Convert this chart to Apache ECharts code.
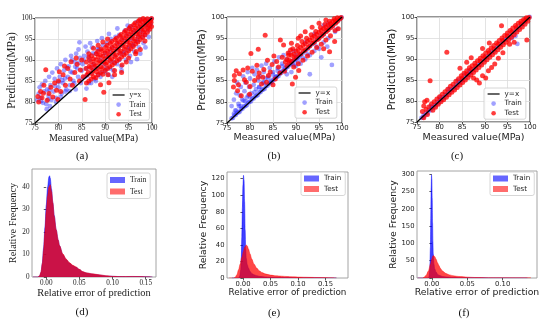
<!DOCTYPE html>
<html>
<head>
<meta charset="utf-8">
<script src="https://cdn.jsdelivr.net/npm/echarts@6/dist/echarts.min.js"></script>
<style>html,body{margin:0;padding:0;background:#fff}#c{width:550px;height:323px}</style>
</head>
<body>
<div id="c"></div>
<script>
// ---------------- DATA ----------------
const scatterTicks = [75, 80, 85, 90, 95, 100];
const refLine = [[75, 75], [100, 100]];
const captions = ['(a)', '(b)', '(c)', '(d)', '(e)', '(f)'];

// scatter values as flat x,y lists (Measured, Prediction)
const aTrain = [75.5,80.5,75.8,82,76,83.5,76.2,81,76.5,84.2,76.7,79.8,77,82.5,77.2,85,77.4,79.5,77.6,83,77.9,81.5,78,86,78.3,84,78.5,80.5,78.7,87,79,82.5,79.2,85.5,79.5,81,79.7,88,80,83.5,76.3,80.2,77.8,80.6,77.5,78.3,78.2,79,79.5,80,80.5,81.2,81.5,82.5,
80.3,86,80.5,89,80.7,82,81,84.5,81.2,87.5,81.5,90,81.7,83,82,86,82.2,88.5,82.5,84,82.7,91,83,87,83.2,85,83.5,89.5,83.7,83,84,88,84.2,86,84.5,94.2,84.6,90.5,84.8,84.5,85,87.5,80.8,85.2,81.8,88.2,82.9,90,83.8,91.5,84.3,92.5,82.4,82.6,83.4,84.4,
81.4,85.6,82.6,87.2,83.6,88.4,84.4,89.3,85.4,90,86.4,90.8,87.4,91.6,88.4,92.6,85,85.4,86.2,86.3,87.3,88,79.3,83.8,80.1,84.7,78.1,82.8,
85.2,89,85.5,91,85.7,86,86,88,86.2,92,86.5,84.5,86.7,90,87,87,87.2,93,87.5,89,87.7,85.5,88,91.5,88.2,88,88.5,86.5,88.7,92.5,89,90,89.2,87,89.5,93.5,89.7,89,90,91.5,86,83.2,87,84.5,88,85,89,86,85.8,93.2,86.8,94,88.3,94.5,89.3,95.2,
90.2,88,90.4,94,90.5,90.5,90.7,86.5,91,92,91.2,95,91.3,89.5,91.5,93,91.7,87.5,92,91,92.2,95.5,92.4,92.5,92.5,89,92.7,94,93,96,93.2,91.5,93.4,88.5,93.5,93.5,93.7,95,94,92,94.2,97,94.4,90,94.5,94.5,94.7,96,95,93,90,87.2,91,88,92,89.5,93,90,94,91.5,91.5,86,93.5,87.5,90.8,96.2,92.6,97.5,94.8,98.2,
95.2,97.5,95.3,91,95.5,95,95.7,98,95.9,93.5,96,96.5,96.2,92,96.4,97,96.5,94.5,96.7,99,97,95.5,97.2,93,97.4,98,97.5,96.5,97.7,99.5,98,97,98.2,94,98.4,98.5,98.5,96,98.7,99.5,99,98,99.2,97,99.5,99.5,99.7,98.5,99.9,99.8,95,92.5,96,93.5,97,94.5,98,95.5,95.5,89.5,97.5,91.5,98.6,93,99.3,95.5,96.8,90.2];

const aTest = [75.8,80,76.2,82.5,76.5,81,76.9,84,77.3,87.7,77.6,80.4,78,82,78.4,83.5,78.8,81.2,79.2,84.5,79.6,82.8,80,85,80.5,82.5,81,86.5,81.5,84,82,88,82.5,85.5,83,84,83.5,87,84,89,84.5,85,85,90,85.7,80.6,80.2,87.2,81.3,88.6,82.7,89.6,83.8,90.5,84.7,87.6,85.3,86,75.6,81.3,76.8,82.1,79.9,80.6,
86,84.5,86.1,86.5,85.9,88,86,89.5,86.5,85,86.4,87,86.6,88.5,86.5,90.5,87,85.5,87.1,86.8,86.9,88.2,87,89.6,87.1,91,87.5,86,87.4,87.5,87.6,89,87.5,90.3,88,85.8,88.1,87.2,87.9,88.6,88,90,88.1,91.5,88.5,86.5,88.4,88,88.6,89.3,88.5,90.8,88.4,92,
89,87,89.1,88.4,88.9,89.8,89,91.2,89.1,92.6,89.5,86.6,89.4,88,89.6,89.5,89.5,90.9,89.4,92.2,90,87.5,90.1,89,89.9,90.3,90,91.7,90.1,93,90.5,88,90.4,89.4,90.6,90.8,90.5,92.1,90.4,93.5,90.6,86.5,
91,88.4,91.1,89.9,90.9,91.2,91,92.6,91.1,94,91.5,88.8,91.4,90.3,91.6,91.6,91.5,93,91.4,94.4,92,89.3,92.1,90.8,91.9,92.1,92,93.4,92.1,94.8,92,87.5,92.5,89.8,92.4,91.2,92.6,92.6,92.5,93.9,92.4,95.2,
93,90.2,93.1,91.7,92.9,93,93,94.3,93.1,95.7,93.5,90.7,93.4,92.1,93.6,93.5,93.5,94.8,93.4,96.1,93.6,88.8,94,91.2,94.1,92.6,93.9,94,94,95.3,94.1,96.6,94.5,91.6,94.4,93.1,94.6,94.4,94.5,95.7,94.4,97,
95,92.2,95.1,93.6,94.9,94.9,95,96.2,95.1,97.5,95,90.5,95.5,92.7,95.4,94,95.6,95.4,95.5,96.7,95.4,98,96,93.2,96.1,94.5,95.9,95.9,96,97.1,96.1,98.4,96.5,93.8,96.4,95,96.6,96.3,96.5,97.6,96.4,98.8,96.6,92,
97,94.3,97.1,95.6,96.9,96.8,97,98,97.1,99.2,97.5,94.9,97.4,96.1,97.6,97.3,97.5,98.5,97.4,99.6,98,95.4,98.1,96.6,97.9,97.8,98,99,98.1,99.9,98.5,96,98.4,97.2,98.6,98.3,98.5,99.4,99,96.6,99.1,97.7,98.9,98.8,99,99.8,99.5,97.3,99.4,98.3,99.6,99.3,99.9,98,99.8,99,99.9,99.9,
89,84.1,89.7,82.3,90.8,84.6,92,86.5,93.5,87,94.5,89.5,96.5,91.5,97.5,92.5,98.5,94.5,87.5,92.8,86.5,91.5,88.5,93.5,89.5,94.3,90.5,95];

const bTrain = [76,76.1,76.3,76.2,76.6,76.8,76.9,76.9,77.2,77.4,77.5,77.5,77.8,77.7,78.1,78.3,78.4,78.4,78.7,78.9,79,79,79.3,79.2,79.6,79.8,79.9,80,80.2,80.1,80.5,80.7,80.8,80.8,81.1,81.3,81.4,81.4,81.7,81.6,82,82.2,82.3,82.3,82.6,82.8,82.9,82.9,83.2,83.1,83.5,83.7,83.8,83.8,84.1,84.3,84.4,84.4,84.7,84.6,85,85.2,85.3,85.3,85.6,85.8,85.9,85.9,86.2,86.1,86.5,86.7,86.8,86.8,87.1,87.3,87.4,87.4,87.7,87.6,88,88.2,88.3,88.3,88.6,88.8,88.9,88.9,89.2,89.1,89.5,89.7,89.8,89.8,90.1,90.3,90.4,90.4,90.7,90.6,91,91.2,91.5,91.5,92,92.1,92.5,92.4,93,93.1,93.5,93.6,94,93.9,94.5,94.6,95,95,95.5,95.6,96,95.9,96.5,96.6,97,97,97.5,97.6,98,97.9,98.5,98.6,99,99,99.5,99.5,99.9,99.9,
76.5,77.2,77,77.9,78,79,79,80.1,80,81.2,81,82.3,82,83.4,83,84.5,84,85.5,85,86.4,86,87.3,87,88.4,
76,79,76.5,80.5,77,82,77.2,84.5,77.5,79.5,77.8,81.5,78,83.5,78.3,80.5,78.5,86,78.8,82.5,79,84.5,79.3,81,79.5,87,79.8,83.5,80,85.5,80.3,82,80.5,88,80.8,84,81,86.5,81.3,83,81.5,87.5,81.8,85,82,83.5,82.3,86,82.5,88.5,82.8,84.5,83,87,83.3,85.5,83.5,89,84,86,84.3,88,84.6,84.8,85,87,85.3,89.5,85.6,86,86,88,86.3,90.5,86.6,87,87,89,87.3,91,87.6,88,88,90,88.5,91.5,89,89.5,89.5,92,90,91,76.8,78,77.6,79,78.6,80.3,79.6,81.5,
88,86.5,89,87,90,88.5,91,89,92,90,93,91,94,92,95,92.5,96,94,97,95,97.8,88.7,93,86.5,95.5,90.5,96.8,93,98.5,96.5,99,97.2,94.5,93,92.5,91.2,91.5,90.4,90.5,89.4,89.5,88.6,92,94,94,96,96,98,97,98.5];

const bTest = [76.6,85,76.6,86.2,77,87.3,77.7,86.6,78.1,81.4,79.2,84.6,79.9,81.8,81,85,81.8,85.8,82.5,84.2,83.3,95.7,83.6,84.6,84.4,87,85.5,85.4,86.2,88.2,86.6,94.6,87.3,93.4,87.7,89.4,88.4,91,88.8,92.2,89.2,84.2,89.9,85.8,90.6,87.4,80.2,91.4,81.8,92.4,77.5,84,78.5,87.5,79.5,88,80.5,87.2,81.5,88.6,82,86.8,82.8,85.8,83,87.6,84,86.2,84.8,88.8,85,84,85.8,89.5,86.5,86.8,87,90.5,87.5,87.2,76.4,83.5,77.3,82.6,78.8,85.2,80,83.6,83.8,89.8,85.2,90.8,
88,88.5,88,90,88.3,91.5,88.6,89.2,89,89.5,89,91,89.3,92.5,89.6,90.2,90,90.5,90,92,90.3,93.3,90.6,91.2,91,91.3,91,92.8,91.3,94.2,91.6,92,92,92.2,92,93.7,92.3,95,92.6,92.8,93,93.2,93,94.6,93.3,95.8,93.6,93.8,94,94.1,94,95.5,94.3,96.6,94.6,94.7,95,95,95,96.4,95.3,97.5,95.6,95.6,96,96,96,97.3,96.3,98.3,96.6,96.6,97,97,97,98.2,97.3,99,97.6,97.5,98,98,98,99,98.3,99.6,98.6,98.5,99,99,99,99.8,99.5,99.5,99.8,99.9,
89.5,88.2,90.5,89,91.5,89.8,92.5,90.8,93.5,91.7,94.5,92.8,95.5,93.6,96.5,94.6,97.5,95.6,98.5,96.8,97.3,91.8,98.4,94.2,96,92.5,99.2,97.2,
90.5,95,92,96.5,93.5,97.6,95,98.5,96.5,99.3,89,93.8,91,95.5,
88.5,89.8,89.5,91.3,90.5,92.3,91.5,93.3,92.5,94.2,93.5,95.1,94.5,95.9,95.5,96.8,96.5,97.6,97.5,98.4,98.5,99.2];

const cTrain = [76,76,76.3,76.1,76.5,76.7,76.8,76.6,77.1,77.3,77.4,77.2,77.7,77.9,78,77.8,78.3,78.5,78.6,78.4,78.9,79.1,79.2,79,79.5,79.7,79.8,79.6,80.1,80.3,80.4,80.2,80.7,80.9,81,80.8,81.3,81.5,81.6,81.4,81.9,82.1,82.2,82,82.5,82.7,82.8,82.6,83.1,83.3,83.4,83.2,83.7,83.9,84,83.8,84.3,84.5,84.6,84.4,84.9,85.1,85.2,85,85.5,86.3,85.8,85.6,86.1,86.3,86.4,86.2,86.7,86.9,87,86.8,87.5,87.6,88,87.9,88.5,88.6,89,88.8,89.5,89.6,90,89.9,90.5,90.6,91,90.9,91.5,91.6,92,91.9,92.5,92.6,93,92.9,93.5,93.6,94,93.9,94.5,94.6,95,94.9,95.5,95.6,96,95,96.5,96.4,97,96.9,97.2,93.6,97.5,97.4,98,97.9,98.5,98.4,99,98.9,99.5,99.6,99.9,100,96.8,95.5,84,84.9,82,82.9,80,80.8,78,78.8,86.5,87.3];

const cTest = [76.2,77.5,76.5,76,76.7,79.8,77,78,77.3,76.8,77.6,78.6,77.9,84.8,78.2,79.3,78.5,77.8,78.8,79.8,79.1,78.5,79.4,80.5,79.7,79.2,80,81,80.3,79.8,80.6,81.6,80.9,80.3,81.2,82.2,81.6,91.6,81.5,80.9,81.8,82.8,82.1,81.5,82.4,83.5,82.7,82.1,83,84,83.3,82.6,83.6,84.7,83.9,83.2,84.2,85.3,84.5,83.8,84.8,86,85.1,84.4,85.4,86.6,85.7,85,86,87.2,86.3,85.6,86.6,87.9,86.9,86.2,87.2,88.4,87.5,86.8,87.8,89,88.1,87.4,88.4,89.6,88.7,88,89,90.2,89.3,88.6,89.6,90.8,89.9,89.2,90.2,91.4,90.5,89.8,90.8,92,91.1,90.4,91.4,92.6,91.7,91,92,93.2,92.3,91.6,92.6,93.8,92.9,92.2,93.2,94.4,93.5,92.8,93.8,95,94.1,93.4,94.4,95.6,94.7,94,95,96.2,95.3,94.6,95.6,96.8,95.9,95.2,96.2,97.4,96.5,95.8,96.8,98,97.1,96.4,97.4,98.5,97.7,97,98,99,98.3,97.6,98.6,99.4,98.9,98.3,99.2,99.8,99.5,99,99.8,99.9,
85,85.5,86,86.4,87,87.5,88,88.4,89,89.5,90,90.4,91,91.5,92,92.4,93,93.5,94,94.4,95,95.5,96,96.4,97,97.5,98,98.4,99,99.3,
87.5,85.5,88.2,85,88.8,84.3,89.5,86,90.2,85.5,90.8,87.2,91.5,88,92.2,88.8,93,90.2,94,91.5,95.5,93.5,96.5,94,99.3,94.5,93.7,97.9,89.5,92.5,91,93.8,84.5,87.8,86,89.2,87,90.3,76.5,78.8,77.2,80.2];

// kernel density curves (relative error, relative frequency)
const dTrain = [-0.02,0,-0.013,0,-0.01,0.5,-0.008,2,-0.006,6,-0.004,13,-0.002,22,0,32,0.002,40,0.004,44.5,0.005,45,0.006,44,0.008,39,0.01,33,0.012,27.5,0.015,21,0.018,16.5,0.02,14,0.025,10,0.03,7.8,0.035,6.2,0.04,5,0.045,4.3,0.05,3.3,0.055,2.3,0.06,1.8,0.07,1.3,0.08,0.9,0.09,0.5,0.1,0.3,0.11,0.2,0.12,0.15,0.13,0.2,0.14,0.2,0.15,0.1,0.16,0];
const dTest = [-0.02,0,-0.013,0,-0.01,0.6,-0.008,2.2,-0.006,6,-0.004,12,-0.002,20,0,29,0.002,36,0.004,40,0.006,41,0.008,38,0.01,33,0.012,27,0.015,21,0.018,16.5,0.02,14,0.025,10.3,0.03,8,0.035,6.4,0.04,5.2,0.045,4.5,0.05,3.4,0.055,2.4,0.06,1.9,0.07,1.4,0.08,1,0.09,0.6,0.1,0.3,0.11,0.2,0.12,0.2,0.13,0.25,0.14,0.2,0.15,0.1,0.16,0];
const eTrain = [-0.02,0,-0.008,0,-0.006,2,-0.004,10,-0.003,25,-0.002,50,-0.001,85,0,112,0.001,124,0.002,118,0.003,92,0.004,58,0.005,35,0.006,24,0.008,16,0.01,12,0.013,8,0.016,5.5,0.02,4,0.025,2.8,0.03,2,0.04,1.3,0.05,0.9,0.07,0.5,0.1,0.25,0.15,0.1,0.17,0];
const eTest = [-0.025,0,-0.017,0,-0.014,1,-0.011,4,-0.008,10,-0.005,17,-0.002,25,0.001,32,0.003,37,0.006,40,0.008,38.5,0.01,35,0.013,29,0.016,23,0.02,17,0.025,12,0.03,8.5,0.035,6.5,0.04,5,0.05,3.5,0.06,2.6,0.07,2.2,0.08,1.8,0.09,1.4,0.1,1.1,0.12,0.8,0.14,0.5,0.16,0.3,0.17,0];
const fTrain = [-0.02,0,-0.005,0,-0.004,4,-0.003,25,-0.002,90,-0.0015,180,-0.001,260,-0.0005,298,0,285,0.0005,230,0.001,160,0.0015,105,0.002,70,0.003,40,0.004,27,0.006,17,0.008,11,0.01,8,0.015,4.5,0.02,3,0.03,1.5,0.05,0.6,0.08,0.2,0.135,0];
const fTest = [-0.02,0,-0.013,0,-0.011,2,-0.008,8,-0.005,20,-0.002,40,0,55,0.001,62,0.002,65,0.004,62,0.006,54,0.008,44,0.01,36,0.012,28,0.015,20,0.02,13,0.025,9,0.03,6.5,0.035,5,0.04,4,0.05,2.5,0.06,1.5,0.08,0.9,0.1,0.7,0.12,0.5,0.135,0.4,0.14,0];

const dXTicks = [0, 0.05, 0.10, 0.15];
const dYTicks = [0, 10, 20, 30, 40];
const eXTicks = [0, 0.05, 0.10, 0.15];
const eYTicks = [0, 20, 40, 60, 80, 100, 120];
const fXTicks = [0, 0.05, 0.10];
const fYTicks = [0, 50, 100, 150, 200, 250, 300];

// ---------------- STYLE / LAYOUT ----------------
const SERIF = "'Liberation Serif','Times New Roman',serif";
const SANS = "'DejaVu Sans','Liberation Sans',sans-serif";
const BLUE_PT = 'rgba(40,40,255,0.55)';
const RED_PT = 'rgba(255,0,0,0.95)';
const BLUE_FILL = 'rgba(0,0,255,0.75)';
const RED_FILL = 'rgba(255,0,0,0.72)';
const CLEAR = 'rgba(0,0,0,0)';

function pairs(flat) { const out = []; for (let i = 0; i + 1 < flat.length; i += 2) out.push([flat[i], flat[i + 1]]); return out; }

const scatterPanels = [
  { train: aTrain, test: aTest, box: { left: 35, top: 18, width: 117, height: 105 }, font: SERIF, tick: 7.4, xt: 10, yt: 11.5, xGap: 9, yGap: 15, frame: '#222', lg: { left: 109, top: 89 }, lf: 7.4 },
  { train: bTrain, test: bTest, box: { left: 227, top: 17, width: 115, height: 106 }, font: SANS, tick: 6.9, xt: 9.5, yt: 10.5, xGap: 9.5, yGap: 18, frame: '#111', lg: { left: 295, top: 87 }, lf: 7.2 },
  { train: cTrain, test: cTest, box: { left: 417, top: 17, width: 113, height: 105 }, font: SANS, tick: 6.9, xt: 9.5, yt: 10.5, xGap: 10.5, yGap: 18, frame: '#111', lg: { left: 484, top: 88 }, lf: 7.2 }
];
const densityPanels = [
  { train: dTrain, test: dTest, xr: [-0.0215, 0.1655], yr: [0, 48], xt: dXTicks, yt: dYTicks, box: { left: 32, top: 169, width: 124, height: 108 }, font: SERIF, tick: 7.2, xs: 10.4, ys: 10.3, xGap: 11, yGap: 13, lg: { left: 107, top: 173 }, lf: 7.6 },
  { train: eTrain, test: eTest, xr: [-0.029, 0.191], yr: [0, 128], xt: eXTicks, yt: eYTicks, box: { left: 227, top: 172, width: 121, height: 106 }, font: SANS, tick: 6.8, xs: 8.8, ys: 9.3, xGap: 10.5, yGap: 19, lg: { left: 301, top: 172 }, lf: 7.2 },
  { train: fTrain, test: fTest, xr: [-0.021, 0.1485], yr: [0, 309], xt: fXTicks, yt: fYTicks, box: { left: 417, top: 171, width: 120, height: 107 }, font: SANS, tick: 6.8, xs: 9.3, ys: 9.3, xGap: 10.5, yGap: 18, lg: { left: 490, top: 172 }, lf: 7.2 }
];
const captionPos = [[82, 156], [274, 156], [457, 156], [82, 312], [274, 313], [464, 313]];

const grid = [], xAxis = [], yAxis = [], series = [], legend = [], graphic = [];

scatterPanels.forEach((p, i) => {
  grid.push(Object.assign({ show: true, borderColor: p.frame, borderWidth: 0.9, backgroundColor: 'transparent', containLabel: false }, p.box));
  const lab = { fontSize: p.tick, fontFamily: p.font, color: '#222', margin: 2.5 };
  const common = {
    gridIndex: i, type: 'value', min: 75, max: 100, interval: 5,
    axisLine: { show: false },
    axisTick: { show: true, length: 2.5, lineStyle: { color: '#222', width: 0.8 } },
    splitLine: { show: true, lineStyle: { color: '#dcdcdc', width: 0.8 } },
    nameLocation: 'middle'
  };
  xAxis.push(Object.assign({}, common, { axisLabel: Object.assign({}, lab, { margin: 2 }), name: 'Measured value(MPa)', nameGap: p.xGap, nameTextStyle: { fontSize: p.xt, fontFamily: p.font, color: '#222' } }));
  yAxis.push(Object.assign({}, common, { axisLabel: lab, name: 'Prediction(MPa)', nameGap: p.yGap, nameTextStyle: { fontSize: p.yt, fontFamily: p.font, color: '#222' } }));
  series.push({ type: 'scatter', name: 'Train', xAxisIndex: i, yAxisIndex: i, data: pairs(p.train), symbolSize: 4.8, itemStyle: { color: BLUE_PT }, z: 2 });
  series.push({ type: 'scatter', name: 'Test', xAxisIndex: i, yAxisIndex: i, data: pairs(p.test), symbolSize: 5, itemStyle: { color: RED_PT }, z: 3 });
  series.push({ type: 'line', name: 'y=x', xAxisIndex: i, yAxisIndex: i, data: refLine, symbol: 'none', lineStyle: { color: '#000', width: 1.2 }, itemStyle: { color: '#000' }, z: 4 });
  legend.push({
    orient: 'vertical', left: p.lg.left, top: p.lg.top, selectedMode: false,
    itemWidth: 12, itemHeight: 4.6, itemGap: 2.6,
    padding: [2.5, 4, 2.5, 3], backgroundColor: 'rgba(255,255,255,0.85)', borderColor: '#ccc', borderWidth: 0.8, borderRadius: 2,
    textStyle: { fontSize: p.lf, fontFamily: p.font, color: '#222' },
    data: [
      { name: 'y=x', itemStyle: { color: CLEAR, borderColor: CLEAR, borderWidth: 0 }, lineStyle: { color: '#000', width: 1.2 } },
      { name: 'Train', icon: 'circle', itemStyle: { color: BLUE_PT } },
      { name: 'Test', icon: 'circle', itemStyle: { color: RED_PT } }
    ]
  });
});

densityPanels.forEach((p, j) => {
  const i = j + 3;
  grid.push(Object.assign({ show: true, borderColor: '#9a9a9a', borderWidth: 0.9, backgroundColor: 'transparent' }, p.box));
  const lab = { fontSize: p.tick, fontFamily: p.font, color: '#222' };
  xAxis.push({
    gridIndex: i, type: 'value', min: p.xr[0], max: p.xr[1],
    axisLine: { show: false }, splitLine: { show: false },
    axisTick: { show: true, length: 2.5, customValues: p.xt, lineStyle: { color: '#333', width: 0.8 } },
    axisLabel: Object.assign({}, lab, { margin: 2.5, customValues: p.xt, formatter: v => v.toFixed(2) }),
    name: 'Relative error of prediction', nameLocation: 'middle', nameGap: p.xGap,
    nameTextStyle: { fontSize: p.xs, fontFamily: p.font, color: '#222' }
  });
  yAxis.push({
    gridIndex: i, type: 'value', min: p.yr[0], max: p.yr[1],
    axisLine: { show: false }, splitLine: { show: false },
    axisTick: { show: true, length: 2.5, customValues: p.yt, lineStyle: { color: '#333', width: 0.8 } },
    axisLabel: Object.assign({}, lab, { margin: 2.5, customValues: p.yt }),
    name: 'Relative Frequency', nameLocation: 'middle', nameGap: p.yGap,
    nameTextStyle: { fontSize: p.ys, fontFamily: p.font, color: '#222' }
  });
  series.push({ type: 'line', name: 'Train', xAxisIndex: i, yAxisIndex: i, data: pairs(p.train), symbol: 'none', smooth: 0.3, smoothMonotone: 'x', lineStyle: { color: BLUE_FILL, width: 0.6 }, areaStyle: { color: BLUE_FILL, opacity: 1 }, z: 2 });
  series.push({ type: 'line', name: 'Test', xAxisIndex: i, yAxisIndex: i, data: pairs(p.test), symbol: 'none', smooth: 0.3, smoothMonotone: 'x', lineStyle: { color: RED_FILL, width: 0.6 }, areaStyle: { color: RED_FILL, opacity: 1 }, z: 3 });
  legend.push({
    orient: 'vertical', left: p.lg.left, top: p.lg.top, selectedMode: false,
    itemWidth: 15, itemHeight: 6, itemGap: 3.5,
    padding: [3, 4, 3, 3], backgroundColor: 'rgba(255,255,255,0.85)', borderColor: '#ccc', borderWidth: 0.8, borderRadius: 2,
    textStyle: { fontSize: p.lf, fontFamily: p.font, color: '#222' },
    data: [{ name: 'Train', icon: 'rect', itemStyle: { color: BLUE_FILL } }, { name: 'Test', icon: 'rect', itemStyle: { color: RED_FILL } }]
  });
});

captions.forEach((t, k) => {
  graphic.push({ type: 'text', x: captionPos[k][0], y: captionPos[k][1], style: { text: t, textAlign: 'center', textVerticalAlign: 'middle', font: '11px ' + SERIF, fill: '#111' } });
});

const chart = echarts.init(document.getElementById('c'), null, { renderer: 'canvas' });
chart.setOption({ animation: false, backgroundColor: '#fff', grid, xAxis, yAxis, series, legend, graphic });
</script>
</body>
</html>
